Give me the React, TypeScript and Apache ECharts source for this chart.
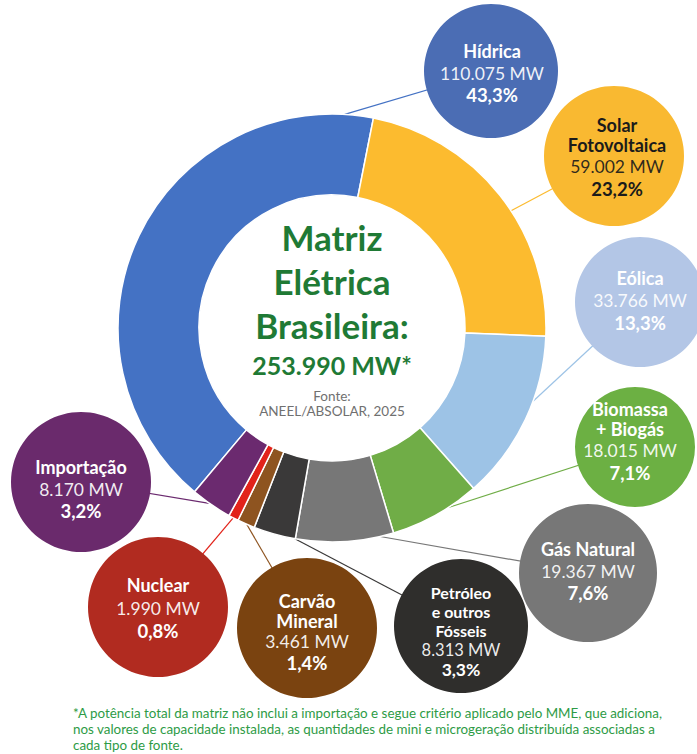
import React, { useEffect, useRef } from "react";
import * as echarts from "echarts";

const categories = [
  "Hídrica",
  "Solar Fotovoltaica",
  "Eólica",
  "Biomassa + Biogás",
  "Gás Natural",
  "Petróleo e outros Fósseis",
  "Carvão Mineral",
  "Nuclear",
  "Importação",
];
const labelLines = [
  ["Hídrica"],
  ["Solar", "Fotovoltaica"],
  ["Eólica"],
  ["Biomassa", "+ Biogás"],
  ["Gás Natural"],
  ["Petróleo", "e outros", "Fósseis"],
  ["Carvão", "Mineral"],
  ["Nuclear"],
  ["Importação"],
];
const valuesMW = [110075, 59002, 33766, 18015, 19367, 8313, 3461, 1990, 8170];
const shares = ["43,3%", "23,2%", "13,3%", "7,1%", "7,6%", "3,3%", "1,4%", "0,8%", "3,2%"];

const ringColors = ["#4472c4", "#fcbb2f", "#9dc3e6", "#70ad47", "#777777", "#3a3939", "#8e5420", "#e2231a", "#6b2a6f"];
const bubbleColors = ["#4b6db4", "#f9b931", "#b3c6e6", "#6cb043", "#777777", "#2f2e2c", "#7a4310", "#b12b20", "#6a2a6c"];
const textColors = ["#ffffff", "#1b1b1b", "#ffffff", "#ffffff", "#ffffff", "#ffffff", "#ffffff", "#ffffff", "#ffffff"];

// layout: bubble centre/radius, text centre, attach angle (deg, clockwise from 12 o'clock), font sizes / line heights
const layout = [
  { cx: 491, cy: 71, r: 67, tx: 492, ty: 73, attach: 3.4, nfs: 18, nlh: 22, vlh: 22 },
  { cx: 614, cy: 156, r: 70, tx: 617, ty: 157, attach: 56.8, nfs: 18, nlh: 20.5, vlh: 22 },
  { cx: 640, cy: 302, r: 65, tx: 640, ty: 300.5, attach: 110, nfs: 18, nlh: 22.5, vlh: 22.5 },
  { cx: 635, cy: 447, r: 60, tx: 630, ty: 441, attach: 147, nfs: 18, nlh: 20.5, vlh: 22 },
  { cx: 588, cy: 573, r: 69, tx: 588, ty: 571, attach: 167, nfs: 18, nlh: 22.5, vlh: 22 },
  { cx: 461, cy: 626, r: 67, tx: 461, ty: 631, attach: 190, nfs: 16, nlh: 19, vlh: 20 },
  { cx: 307, cy: 628, r: 70, tx: 307, ty: 632, attach: 203.5, nfs: 18, nlh: 20, vlh: 21 },
  { cx: 158, cy: 607, r: 70, tx: 158, ty: 608, attach: 207.5, nfs: 18, nlh: 23, vlh: 23 },
  { cx: 81, cy: 482, r: 70, tx: 81, ty: 489, attach: 215, nfs: 18, nlh: 22, vlh: 22 },
];

const centerLines = ["Matriz", "Elétrica", "Brasileira:"];
const totalLabel = "253.990 MW*";
const sourceLines = ["Fonte:", "ANEEL/ABSOLAR, 2025"];
const footnote = [
  "*A potência total da matriz não inclui a importação e segue critério aplicado pelo MME, que adiciona,",
  "nos valores de capacidade instalada, as quantidades de mini e microgeração distribuída associadas a",
  "cada tipo de fonte.",
];

const fmt = (v: number) => String(v).replace(/\B(?=(\d{3})+(?!\d))/g, ".");

const CX = 332;
const CY = 328;
const R_IN = 133;
const R_OUT = 214;
const FONT = "Lato, 'Noto Sans', sans-serif";

export default function App() {
  const ref = useRef<HTMLDivElement>(null);
  useEffect(() => {
    if (!ref.current) return;
    const chart = echarts.init(ref.current, null, { renderer: "svg" });

    const graphics: any[] = [];
    layout.forEach((L, i) => {
      const a = (L.attach * Math.PI) / 180;
      const x1 = CX + R_OUT * Math.sin(a);
      const y1 = CY - R_OUT * Math.cos(a);
      graphics.push({
        type: "line",
        z: 1,
        shape: { x1, y1, x2: L.cx, y2: L.cy },
        style: { stroke: ringColors[i], lineWidth: 1.2 },
        silent: true,
      });
      graphics.push({
        type: "circle",
        z: 10,
        shape: { cx: L.cx, cy: L.cy, r: L.r },
        style: { fill: bubbleColors[i] },
        silent: true,
      });
      const tc = textColors[i];
      const parts = labelLines[i].map((s) => `{n|${s}}`);
      parts.push(`{v|${fmt(valuesMW[i])} MW}`);
      parts.push(`{p|${shares[i]}}`);
      graphics.push({
        type: "text",
        z: 11,
        x: L.tx,
        y: L.ty,
        silent: true,
        style: {
          text: parts.join("\n"),
          align: "center",
          verticalAlign: "middle",
          rich: {
            n: { fontFamily: FONT, fontWeight: "bold", fontSize: L.nfs, lineHeight: L.nlh, fill: tc, align: "center" },
            v: { fontFamily: FONT, fontWeight: "normal", fontSize: L.nfs === 18 ? 17.5 : 16.5, lineHeight: L.vlh, fill: tc, opacity: 0.92, align: "center" },
            p: { fontFamily: FONT, fontWeight: "bold", fontSize: L.nfs === 18 ? 18.5 : 17.5, lineHeight: L.vlh, fill: tc, align: "center" },
          },
        },
      });
    });

    const green = "#1f7a35";
    centerLines.forEach((t, k) => {
      graphics.push({
        type: "text",
        x: CX,
        y: 237 + k * 44,
        silent: true,
        style: { text: t, align: "center", verticalAlign: "middle", fontFamily: FONT, fontWeight: "bold", fontSize: 35, fill: green },
      });
    });
    graphics.push({
      type: "text",
      x: CX,
      y: 365,
      silent: true,
      style: { text: totalLabel, align: "center", verticalAlign: "middle", fontFamily: FONT, fontWeight: "bold", fontSize: 25, fill: green },
    });
    sourceLines.forEach((t, k) => {
      graphics.push({
        type: "text",
        x: CX,
        y: 396 + k * 15,
        silent: true,
        style: { text: t, align: "center", verticalAlign: "middle", fontFamily: FONT, fontSize: 13.5, fill: "#707070" },
      });
    });
    graphics.push({
      type: "text",
      x: 73,
      y: 705,
      silent: true,
      style: {
        text: footnote.join("\n"),
        align: "left",
        verticalAlign: "top",
        fontFamily: FONT,
        fontSize: 13.4,
        lineHeight: 16,
        fill: "#2e9b46",
      },
    });

    chart.setOption({
      animation: false,
      backgroundColor: "#ffffff",
      series: [
        {
          type: "pie",
          center: [CX, CY],
          radius: [R_IN, R_OUT],
          startAngle: 230,
          clockwise: true,
          avoidLabelOverlap: false,
          label: { show: false },
          labelLine: { show: false },
          emphasis: { disabled: true },
          itemStyle: { borderColor: "#ffffff", borderWidth: 1.5 },
          data: categories.map((name, i) => ({
            name,
            value: valuesMW[i],
            itemStyle: { color: ringColors[i] },
          })),
        },
      ],
      graphic: graphics,
    });
    return () => chart.dispose();
  }, []);
  return <div ref={ref} style={{ position: "fixed", left: 0, top: 0, width: 697, height: 754 }} />;
}
